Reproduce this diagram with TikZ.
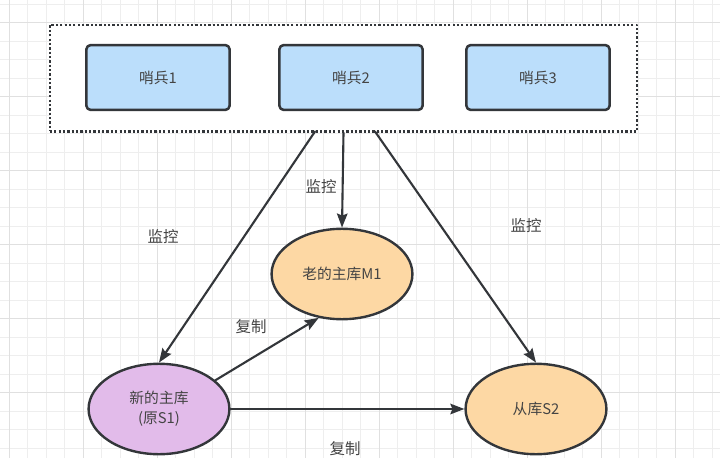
\documentclass[tikz,border=0pt]{standalone}
\usepackage{fontspec}
\newfontfamily\cjk{Noto Sans CJK SC}
\usetikzlibrary{arrows.meta,shapes.geometric}

\definecolor{gridminor}{HTML}{EEEEEE}
\definecolor{gridmajor}{HTML}{E0E0E0}
\definecolor{edge}{HTML}{33363A}
\definecolor{sentfill}{HTML}{BBDEFB}
\definecolor{oldfill}{HTML}{FDD8A4}
\definecolor{newfill}{HTML}{E2BBEA}
\definecolor{txt}{HTML}{444444}

\begin{document}
\begin{tikzpicture}[x=0.025cm,y=-0.025cm,line cap=round,line join=round,
  sentinel/.style={draw=edge,fill=sentfill,line width=1.8pt,rounded corners=3pt,
    minimum width=3.58cm,minimum height=1.62cm,inner sep=0pt,text=txt,
    font=\cjk\fontsize{10.5}{12}\selectfont},
  db/.style={ellipse,draw=edge,line width=1.7pt,minimum width=3.52cm,minimum height=2.26cm,
    inner sep=0pt,text=txt,align=center,font=\cjk\fontsize{10.5}{14}\selectfont},
  lbl/.style={text=txt,font=\cjk\fontsize{11}{13}\selectfont},
  link/.style={draw=edge,line width=1.5pt,-{Stealth[length=10pt,width=7.5pt,inset=1.5pt]}}]
  \useasboundingbox (0,0) rectangle (720,458);
  \fill[white] (0,0) rectangle (720,458);
  % grid
  \foreach \i in {0,...,38}
    \draw[gridminor,line width=0.7pt] ({9+18.5*\i},0) -- ({9+18.5*\i},458);
  \foreach \i in {0,...,24}
    \draw[gridminor,line width=0.7pt] (0,{4.2+18.5*\i}) -- (720,{4.2+18.5*\i});
  \foreach \i in {0,4,...,36}
    \draw[gridmajor,line width=0.7pt] ({9+18.5*\i},0) -- ({9+18.5*\i},458);
  \foreach \i in {1,5,...,21}
    \draw[gridmajor,line width=0.7pt] (0,{4.2+18.5*\i}) -- (720,{4.2+18.5*\i});

  % sentinels
  \node[draw=edge,fill=white,line width=1.7pt,line cap=butt,dash pattern=on 1.6pt off 1.5pt,
    minimum width=14.68cm,minimum height=2.66cm,inner sep=0pt] (grp) at (343.5,78.2) {};
  \node[sentinel] (s1) at (158,77.5) {哨兵1};
  \node[sentinel] (s2) at (351,77.5) {哨兵2};
  \node[sentinel] (s3) at (538,77.5) {哨兵3};
  \coordinate (gl) at (315,131.5);
  \coordinate (gr) at (375,131.5);

  % databases
  \node[db,fill=oldfill] (old) at (342,274) {老的主库M1};
  \node[db,fill=newfill] (new) at (159,409) {新的主库\\(原S1)};
  \node[db,fill=oldfill] (slave) at (536,409) {从库S2};

  \draw[link] (gl) -- (new.north);
  \draw[link] (grp.south) -- (old.north);
  \draw[link] (gr) -- (slave.north);
  \draw[link] (new.27) -- (old.242);
  \draw[link] (new.east) -- (slave.west);

  \node[lbl] (mon1) at (163,237) {监控};
  \node[lbl] (mon2) at (321,187) {监控};
  \node[lbl] (mon3) at (526,226) {监控};
  \node[lbl] (rep1) at (251,327) {复制};
  \node[lbl] (rep2) at (345,449) {复制};
\end{tikzpicture}
\end{document}
